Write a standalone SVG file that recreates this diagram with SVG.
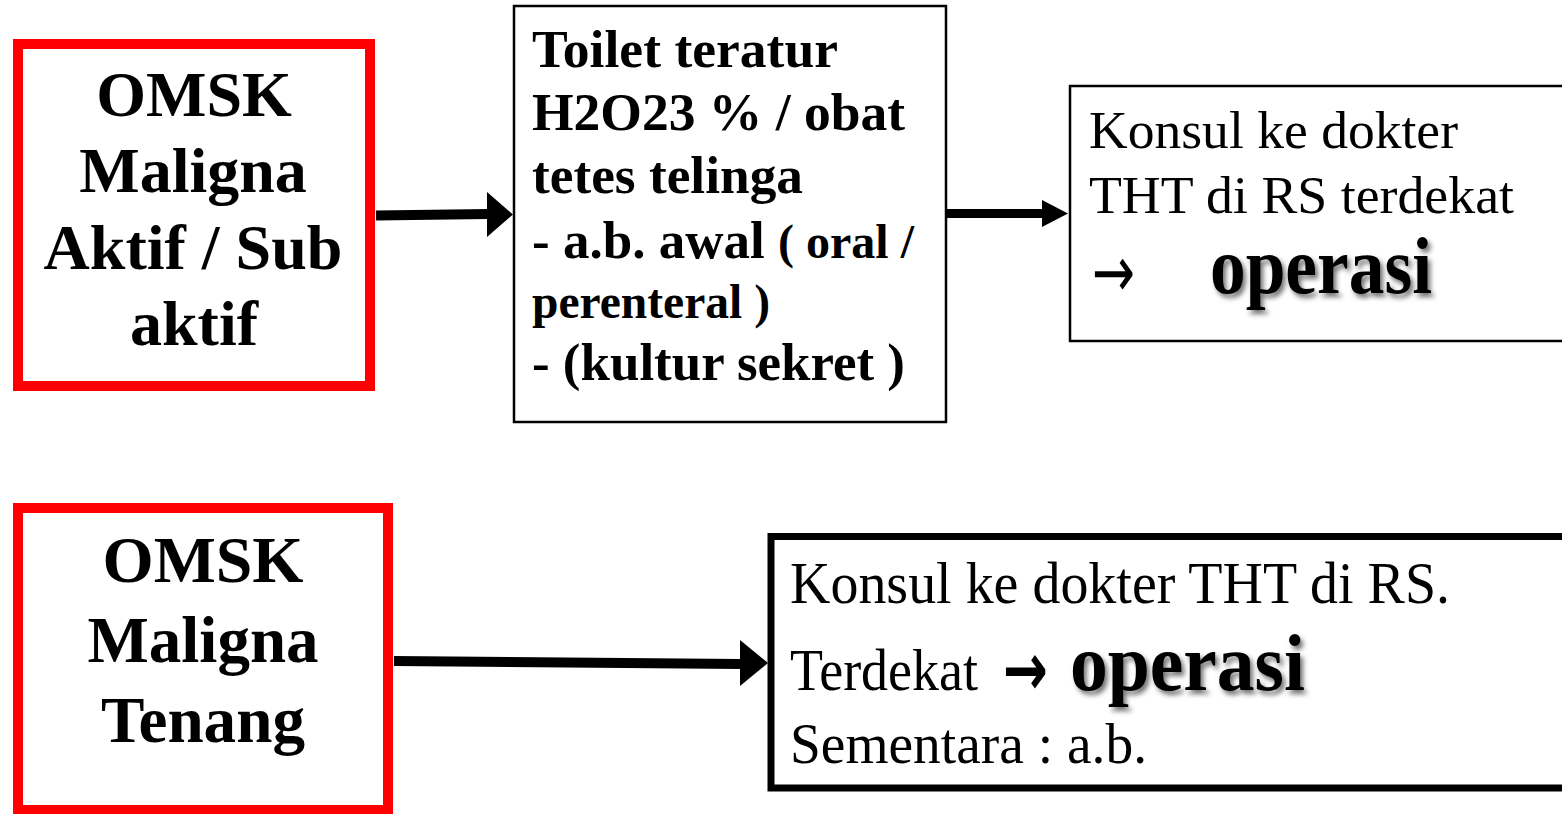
<svg xmlns="http://www.w3.org/2000/svg" width="1562" height="814" viewBox="0 0 1562 814">
<defs>
<style>
.red{fill:#fff;stroke:#ff0000;stroke-width:10}
.thin{fill:#fff;stroke:#000;stroke-width:2.5}
.thick{fill:#fff;stroke:#000;stroke-width:7}
.b{font-family:"Liberation Serif","Times New Roman",serif;font-weight:bold;fill:#000}
.r{font-family:"Liberation Serif","Times New Roman",serif;fill:#000}
.ar{font-family:"DejaVu Sans",sans-serif;fill:#000}
.c{text-anchor:middle}
.shaft{stroke:#000;fill:none}
.head{fill:#000}
</style>
<filter id="sh" x="-10%" y="-20%" width="130%" height="150%">
<feDropShadow dx="3" dy="4" stdDeviation="2.5" flood-color="#000" flood-opacity="0.55"/>
</filter>
</defs>
<rect width="1562" height="814" fill="#fff"/>

<g id="connectors">
<path class="shaft" d="M376 215.5 L488 214" stroke-width="10"/>
<polygon class="head" points="487,192 513,214.5 487,237"/>
<path class="shaft" d="M946 213.5 L1043 213.5" stroke-width="9"/>
<polygon class="head" points="1042,200 1068,213.5 1042,227"/>
<path class="shaft" d="M394 661 L741 664" stroke-width="10"/>
<polygon class="head" points="740,640 768,663 740,686"/>
</g>

<g id="node-omsk-aktif">
<rect class="red" x="18" y="44" width="352" height="342"/>
<text class="b c" font-size="64" x="194" y="116">OMSK</text>
<text class="b c" font-size="64" x="193" y="192">Maligna</text>
<text class="b c" font-size="64" x="193" y="269">Aktif / Sub</text>
<text class="b c" font-size="64" x="194" y="345">aktif</text>
</g>

<g id="node-toilet">
<rect class="thin" x="514" y="6" width="432" height="416"/>
<text class="b" font-size="53" x="532" y="67" textLength="306" lengthAdjust="spacingAndGlyphs">Toilet teratur</text>
<text class="b" font-size="53" x="532" y="130" textLength="373" lengthAdjust="spacingAndGlyphs">H2O23 % / obat</text>
<text class="b" font-size="53" x="532" y="193" textLength="271" lengthAdjust="spacingAndGlyphs">tetes telinga</text>
<text class="b" font-size="53" x="532" y="258">- a.b. awal <tspan x="778" font-size="48">( oral /</tspan></text>
<text class="b" font-size="48" x="532" y="318" textLength="238" lengthAdjust="spacingAndGlyphs">perenteral )</text>
<text class="b" font-size="53" x="532" y="380" textLength="373" lengthAdjust="spacingAndGlyphs">- (kultur sekret )</text>
</g>

<g id="node-konsul-1">
<rect class="thin" x="1070" y="86" width="520" height="255"/>
<text class="r" font-size="53.5" x="1089" y="148" textLength="369" lengthAdjust="spacingAndGlyphs">Konsul ke dokter</text>
<text class="r" font-size="53.5" x="1089" y="213" textLength="425" lengthAdjust="spacingAndGlyphs">THT di RS terdekat</text>
<text class="ar" font-size="72" x="1092" y="297" textLength="43" lengthAdjust="spacingAndGlyphs">→</text>
<text class="b" font-size="80" x="1210" y="293" textLength="222" lengthAdjust="spacingAndGlyphs" filter="url(#sh)">operasi</text>
</g>

<g id="node-omsk-tenang">
<rect class="red" x="18" y="508" width="370" height="302"/>
<text class="b c" font-size="66" x="203" y="582" textLength="201" lengthAdjust="spacingAndGlyphs">OMSK</text>
<text class="b c" font-size="66" x="203" y="662" textLength="231" lengthAdjust="spacingAndGlyphs">Maligna</text>
<text class="b c" font-size="66" x="203" y="742" textLength="204" lengthAdjust="spacingAndGlyphs">Tenang</text>
</g>

<g id="node-konsul-2">
<rect class="thick" x="771" y="536.5" width="820" height="251.5"/>
<text class="r" font-size="59" x="790" y="603" textLength="660" lengthAdjust="spacingAndGlyphs">Konsul ke dokter THT di RS.</text>
<text class="r" font-size="60" x="790" y="690" textLength="188" lengthAdjust="spacingAndGlyphs">Terdekat</text>
<text class="ar" font-size="74" font-weight="bold" x="1003" y="695" textLength="45" lengthAdjust="spacingAndGlyphs">→</text>
<text class="b" font-size="80" x="1070" y="690" textLength="235" lengthAdjust="spacingAndGlyphs" filter="url(#sh)">operasi</text>
<text class="r" font-size="58" x="790" y="763" textLength="357" lengthAdjust="spacingAndGlyphs">Sementara : a.b.</text>
</g>
</svg>
